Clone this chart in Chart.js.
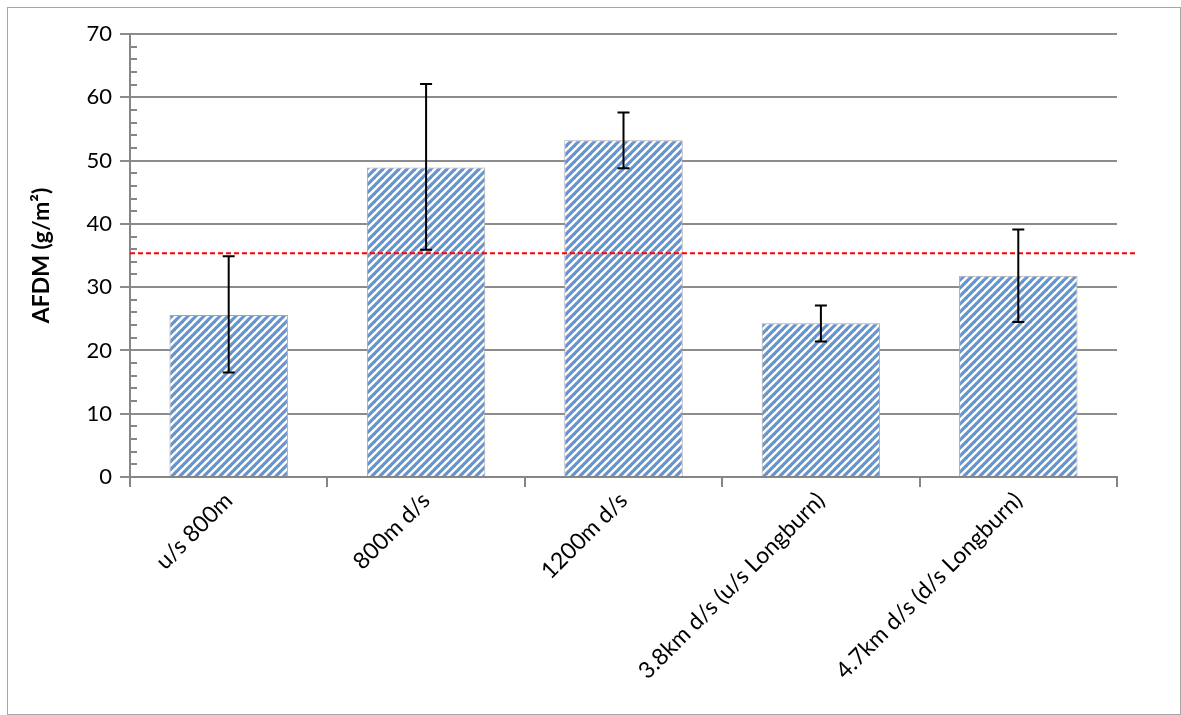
<!DOCTYPE html>
<html>
<head>
<meta charset="utf-8">
<script src="https://cdn.jsdelivr.net/npm/chart.js@4/dist/chart.umd.min.js"></script>
<style>
  html, body { margin: 0; padding: 0; background: #fff; }
  #frame { position: absolute; left: 7px; top: 7px; width: 1174px; height: 708px; border: 1px solid #a6a6a6; box-sizing: border-box; }
  #wrap { position: absolute; left: 0; top: 0; width: 1181px; height: 715px; }
</style>
</head>
<body>
<div id="frame"></div>
<div id="wrap"><canvas id="chart" width="1181" height="715"></canvas></div>
<script>
// data
const categories = ['u/s 800m', '800m d/s', '1200m d/s', '3.8km d/s (u/s Longburn)', '4.7km d/s (d/s Longburn)'];
const afdm = [25.6, 48.9, 53.2, 24.3, 31.8];
const errHigh = [34.9, 62.1, 57.6, 27.1, 39.1];
const errLow = [16.5, 35.9, 48.8, 21.4, 24.5];
const refLine = 35.35;
const yMin = 0, yMax = 70, yStep = 10, yMinorStep = 2;

const FONT = 'Lato, "Open Sans", sans-serif';

// diagonal hatch like the excel fill
function makeHatch() {
  const n = 8;
  const c = document.createElement('canvas');
  c.width = n; c.height = n;
  const g = c.getContext('2d');
  g.fillStyle = '#ffffff';
  g.fillRect(0, 0, n, n);
  g.strokeStyle = '#6795d0';
  g.lineWidth = 3.2;
  [[-n / 2, n / 2, n / 2, -n / 2], [0, n, n, 0], [n / 2, n * 1.5, n * 1.5, n / 2]].forEach(l => {
    g.beginPath(); g.moveTo(l[0], l[1]); g.lineTo(l[2], l[3]); g.stroke();
  });
  return g.createPattern(c, 'repeat');
}

const refLinePlugin = {
  id: 'refLine',
  afterDatasetsDraw(chart) {
    const { ctx, chartArea } = chart;
    const y = chart.scales.y.getPixelForValue(refLine);
    ctx.save();
    ctx.strokeStyle = '#ff0000';
    ctx.lineWidth = 2;
    ctx.setLineDash([5, 3]);
    ctx.beginPath();
    ctx.moveTo(chartArea.left, y);
    ctx.lineTo(chartArea.right + 19, y);
    ctx.stroke();
    ctx.restore();
  }
};

const errorBarPlugin = {
  id: 'errorBars',
  afterDatasetsDraw(chart) {
    const { ctx } = chart;
    const ys = chart.scales.y;
    const meta = chart.getDatasetMeta(0);
    ctx.save();
    ctx.strokeStyle = '#000';
    ctx.lineWidth = 2;
    meta.data.forEach((bar, i) => {
      const x = bar.x;
      const top = ys.getPixelForValue(errHigh[i]);
      const bot = ys.getPixelForValue(errLow[i]);
      ctx.beginPath();
      ctx.moveTo(x, top); ctx.lineTo(x, bot);
      ctx.moveTo(x - 6, top); ctx.lineTo(x + 6, top);
      ctx.moveTo(x - 6, bot); ctx.lineTo(x + 6, bot);
      ctx.stroke();
    });
    ctx.restore();
  }
};

// small inside ticks on the value axis
const minorTickPlugin = {
  id: 'minorTicks',
  afterDraw(chart) {
    const { ctx, chartArea } = chart;
    const ys = chart.scales.y;
    ctx.save();
    ctx.strokeStyle = '#868686';
    ctx.lineWidth = 2;
    for (let v = yMin; v <= yMax; v += yMinorStep) {
      if (v % yStep === 0) continue;
      const y = Math.round(ys.getPixelForValue(v));
      ctx.beginPath();
      ctx.moveTo(chartArea.left, y);
      ctx.lineTo(chartArea.left + 7, y);
      ctx.stroke();
    }
    ctx.restore();
  }
};

new Chart(document.getElementById('chart'), {
  type: 'bar',
  data: {
    labels: categories,
    datasets: [{
      data: afdm,
      backgroundColor: makeHatch(),
      borderColor: '#a6a6a6',
      borderWidth: 1,
      barPercentage: 0.6,
      categoryPercentage: 1.0,
    }],
  },
  options: {
    responsive: false,
    animation: false,
    layout: { padding: { top: 34, right: 64, left: 0, bottom: 0 } },
    plugins: { legend: { display: false }, tooltip: { enabled: false } },
    scales: {
      x: {
        grid: { offset: true, drawOnChartArea: false, drawTicks: true, tickLength: 10, color: '#868686', lineWidth: 2 },
        border: { color: '#868686', width: 2 },
        ticks: { minRotation: 45, maxRotation: 45, color: '#000', padding: 0, font: { family: FONT, size: 23 } },
        afterFit: s => { s.height = 238; },
      },
      y: {
        min: yMin,
        max: yMax,
        ticks: { stepSize: yStep, color: '#000', padding: 8, font: { family: FONT, size: 22 } },
        grid: { color: '#8c8c8c', lineWidth: 2, tickLength: 10 },
        border: { color: '#868686', width: 2 },
        title: { display: true, text: 'AFDM (g/m²)', color: '#000', font: { family: FONT, size: 23, weight: 'bold' }, padding: { top: 28, bottom: 0 } },
        afterFit: s => { s.width = 130; },
      },
    },
  },
  plugins: [refLinePlugin, errorBarPlugin, minorTickPlugin],
});
</script>
</body>
</html>
